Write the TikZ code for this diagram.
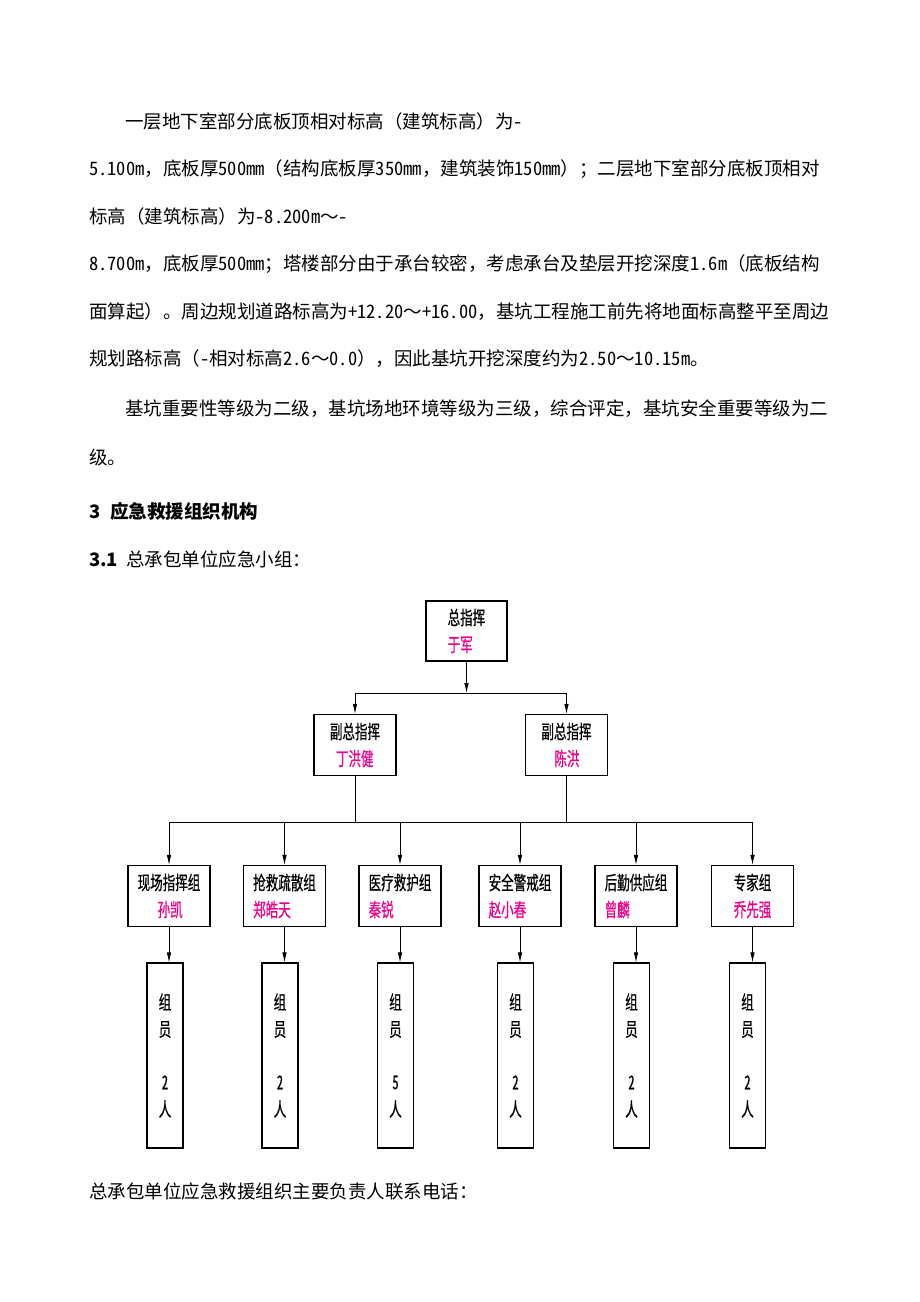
\documentclass[tikz,border=0pt]{standalone}
\usepackage{fontspec}
\setmainfont{Noto Sans CJK SC}
\newfontfamily\hwfont[RawFeature=+hwid]{Noto Sans CJK SC}
\newfontfamily\chartfont[FakeStretch=0.66,FakeBold=0.6,RawFeature=+hwid]{Noto Sans CJK SC}
\XeTeXlinebreaklocale "zh"
\XeTeXlinebreakskip=0pt plus 3pt minus 1pt
\usetikzlibrary{arrows.meta}

\newcommand\bodysize{\fontsize{18.5}{22}\selectfont}
\newcommand\chartsize{\chartfont\fontsize{19}{27}\selectfont}
\newcommand\pname[1]{\textcolor{magenta}{#1}}
\newcommand\hw[1]{{\hwfont#1}}
\newcommand\fullrow[1]{\parfillskip=0pt\relax\noindent#1}

\begin{document}
\begin{tikzpicture}[x=1pt,y=-1pt,
    para/.style={anchor=west,inner sep=0pt,font=\bodysize},
    fullline/.style={para,text width=#1,align=justify},
    chief/.style={draw,line width=1.1pt,minimum width=82pt,minimum height=61pt,inner sep=0pt,align=left,font=\chartsize},
    member/.style={draw,line width=1.1pt,minimum width=36pt,minimum height=185pt,inner sep=0pt,align=center,font=\chartsize},
    arr/.style={line width=0.8pt,-{Latex[length=10pt,width=4.5pt]}},
    bus/.style={line width=0.8pt}]

    \fill[white] (0,0) rectangle (920,1302);

    \node[para] (l1) at (125,121) {一层地下室部分底板顶相对标高（建筑标高）为\hw{-}};
    \node[fullline=731pt] (l2) at (89,169) {\fullrow{\hw{5.100m}，底板厚\hw{500mm}（结构底板厚\hw{350mm}，建筑装饰\hw{150mm}）；二层地下室部分底板顶相对}};
    \node[para] (l3) at (89,216) {标高（建筑标高）为\hw{-8.200m}～\hw{-}};
    \node[fullline=739pt] (l4) at (89,264) {\fullrow{\hw{8.700m}，底板厚\hw{500mm}；塔楼部分由于承台较密，考虑承台及垫层开挖深度\hw{1.6m}（底板结构}};
    \node[fullline=743pt] (l5) at (89,312) {\fullrow{面算起）。周边规划道路标高为\hw{+12.20}～\hw{+16.00}，基坑工程施工前先将地面标高整平至周边}};
    \node[para] (l6) at (89,359) {规划路标高（\hw{-}相对标高\hw{2.6}～\hw{0.0}），因此基坑开挖深度约为\hw{2.50}～\hw{10.15m}。};
    \node[fullline=705pt] (l7) at (125,409) {\fullrow{基坑重要性等级为二级，基坑场地环境等级为三级，综合评定，基坑安全重要等级为二}};
    \node[para] (l8) at (89,457) {级。};
    \node[para] (h3) at (89,511) {\bfseries 3\hspace{10pt}应急救援组织机构};
    \node[para] (h31) at (89,559) {{\bfseries 3.1}\hspace{8pt}总承包单位应急小组：};

    \node[chief,minimum width=81pt,minimum height=60pt] (zong) at (466.5,631) {总指挥\\\pname{于军}};
    \node[chief] (fu1) at (355,745) {副总指挥\\\hspace*{6pt}\pname{丁洪健}};
    \node[chief] (fu2) at (566.5,745) {副总指挥\\\hspace*{13pt}\pname{陈洪}};

    \coordinate (busa) at (466.5,693);
    \coordinate (busb) at (460,822);

    \node[chief] (xc) at (169,896) {现场指挥组\\\hspace*{20pt}\pname{孙凯}};
    \node[chief] (qj) at (284.5,896) {抢救疏散组\\\pname{郑皓天}};
    \node[chief] (yl) at (400,896) {医疗救护组\\\pname{秦锐}};
    \node[chief] (aq) at (520,896) {安全警戒组\\\pname{赵小春}};
    \node[chief] (hq) at (636,896) {后勤供应组\\\pname{曾麟}};
    \node[chief] (zj) at (752.5,896) {专家组\\\pname{乔先强}};

    \node[member] (xcm) at (165,1055.5) {组\\员\\[26pt]2\\人};
    \node[member] (qjm) at (280,1055.5) {组\\员\\[26pt]2\\人};
    \node[member] (ylm) at (395.5,1055.5) {组\\员\\[26pt]5\\人};
    \node[member] (aqm) at (515.5,1055.5) {组\\员\\[26pt]2\\人};
    \node[member] (hqm) at (631.5,1055.5) {组\\员\\[26pt]2\\人};
    \node[member] (zjm) at (747.5,1055.5) {组\\员\\[26pt]2\\人};

    \node[para] (tel) at (89,1191) {总承包单位应急救援组织主要负责人联系电话：};

    \draw[arr] (zong) -- (zong |- busa);
    \draw[bus] (fu1 |- busa) -- (fu2 |- busa);
    \draw[arr] (fu1 |- busa) -- (fu1);
    \draw[arr] (fu2 |- busa) -- (fu2);

    \draw[bus] (fu1) -- (fu1 |- busb);
    \draw[bus] (fu2) -- (fu2 |- busb);
    \draw[bus] (xc |- busb) -- (zj |- busb);
    \draw[arr] (xc |- busb) -- (xc);
    \draw[arr] (qj |- busb) -- (qj);
    \draw[arr] (yl |- busb) -- (yl);
    \draw[arr] (aq |- busb) -- (aq);
    \draw[arr] (hq |- busb) -- (hq);
    \draw[arr] (zj |- busb) -- (zj);

    \draw[arr] (xc) -- (xc |- xcm.north);
    \draw[arr] (qj) -- (qj |- qjm.north);
    \draw[arr] (yl) -- (yl |- ylm.north);
    \draw[arr] (aq) -- (aq |- aqm.north);
    \draw[arr] (hq) -- (hq |- hqm.north);
    \draw[arr] (zj) -- (zj |- zjm.north);
\end{tikzpicture}
\end{document}
